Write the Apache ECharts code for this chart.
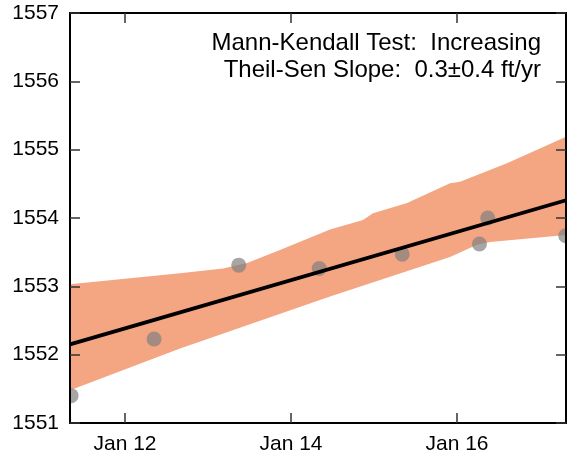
<!DOCTYPE html>
<html>
<head>
<meta charset="utf-8">
<script src="https://cdn.jsdelivr.net/npm/echarts@6/dist/echarts.min.js"></script>
<style>
html,body{margin:0;padding:0;background:#fff;}
#chart{width:567px;height:459px;}
</style>
</head>
<body>
<div id="chart"></div>
<script>
// Observations: decimal year, water level (ft)
const obsYears = [2011.35, 2012.35, 2013.37, 2014.34, 2015.34, 2016.27, 2016.37, 2017.31];
const obsLevels = [1551.40, 1552.23, 1553.31, 1553.26, 1553.47, 1553.62, 1554.00, 1553.74];

// Theil-Sen trend line end points
const trendYears = [2011.337, 2017.313];
const trendLevels = [1552.15, 1554.26];

// Confidence band edges
const bandUpperYears = [2011.337, 2012.663, 2013.181, 2013.47, 2013.867, 2014.47, 2014.867, 2014.988, 2015.398, 2015.916, 2016.036, 2016.602, 2017.313];
const bandUpperLevels = [1553.03, 1553.19, 1553.26, 1553.34, 1553.53, 1553.83, 1553.97, 1554.07, 1554.22, 1554.51, 1554.53, 1554.80, 1555.19];
const bandLowerYears = [2011.337, 2012.663, 2014.47, 2015.916, 2016.24, 2016.398, 2017.313];
const bandLowerLevels = [1551.48, 1552.09, 1552.85, 1553.43, 1553.61, 1553.65, 1553.75];

// Axes
const xMin = 2011.337, xMax = 2017.313;
const xTickValues = [2012, 2014, 2016];
const xTickLabels = ['Jan 12', 'Jan 14', 'Jan 16'];
const yMin = 1551, yMax = 1557;

const annotationLines = ['Mann-Kendall Test:  Increasing', 'Theil-Sen Slope:  0.3\u00b10.4 ft/yr'];

const FONT = 'Liberation Sans, Arial, sans-serif';
const chart = echarts.init(document.getElementById('chart'), null, {renderer: 'canvas'});

const bandData = bandUpperYears.map((x, i) => [x, bandUpperLevels[i]])
  .concat(bandLowerYears.map((x, i) => [x, bandLowerLevels[i]]).reverse());

const tickStyle = {show: true, inside: true, length: 10, lineStyle: {color: '#333', width: 1.5}};
const lineStyle = {show: true, onZero: false, lineStyle: {color: '#000', width: 2}};

chart.setOption({
  animation: false,
  backgroundColor: '#fff',
  grid: {left: 70, right: 1, top: 13, bottom: 36, containLabel: false},
  xAxis: [
    {type: 'value', position: 'bottom', min: xMin, max: xMax, z: 10,
     axisLine: lineStyle,
     axisTick: Object.assign({}, tickStyle, {customValues: xTickValues}),
     axisLabel: {show: true, customValues: xTickValues, margin: 11,
       color: '#000', fontSize: 21, fontFamily: FONT,
       formatter: v => xTickLabels[xTickValues.indexOf(v)] || ''},
     splitLine: {show: false}},
    {type: 'value', position: 'top', min: xMin, max: xMax, z: 10,
     axisLine: lineStyle,
     axisTick: Object.assign({}, tickStyle, {customValues: xTickValues}),
     axisLabel: {show: false},
     splitLine: {show: false}}
  ],
  yAxis: [
    {type: 'value', position: 'left', min: yMin, max: yMax, interval: 1, z: 10,
     axisLine: lineStyle, axisTick: tickStyle,
     axisLabel: {show: true, margin: 11, color: '#000', fontSize: 21, fontFamily: FONT,
       formatter: v => String(v)},
     splitLine: {show: false}},
    {type: 'value', position: 'right', min: yMin, max: yMax, interval: 1, z: 10,
     axisLine: lineStyle, axisTick: tickStyle,
     axisLabel: {show: false},
     splitLine: {show: false}}
  ],
  series: [
    {
      type: 'custom', name: 'band', z: 1, clip: true,
      data: [0],
      renderItem: function (params, api) {
        const pts = bandData.map(p => api.coord(p));
        return {type: 'polygon', shape: {points: pts}, style: {fill: '#f4a582', stroke: null}};
      }
    },
    {
      type: 'custom', name: 'obs', z: 2, clip: true,
      data: obsYears.map((x, i) => [x, obsLevels[i]]),
      renderItem: function (params, api) {
        const c = api.coord([api.value(0), api.value(1)]);
        return {type: 'circle', shape: {cx: c[0], cy: c[1], r: 7.5},
                style: {fill: 'rgba(128,128,128,0.7)', stroke: null}};
      }
    },
    {
      type: 'line', name: 'trend', z: 3, symbol: 'none',
      data: trendYears.map((x, i) => [x, trendLevels[i]]),
      lineStyle: {color: '#000', width: 3.8}
    }
  ],
  graphic: annotationLines.map((t, i) => ({
    type: 'text', right: 26, top: 31 + i * 27, z: 20,
    style: {text: t, fontSize: 24, fontFamily: FONT, fill: '#000'}
  }))
});
</script>
</body>
</html>
